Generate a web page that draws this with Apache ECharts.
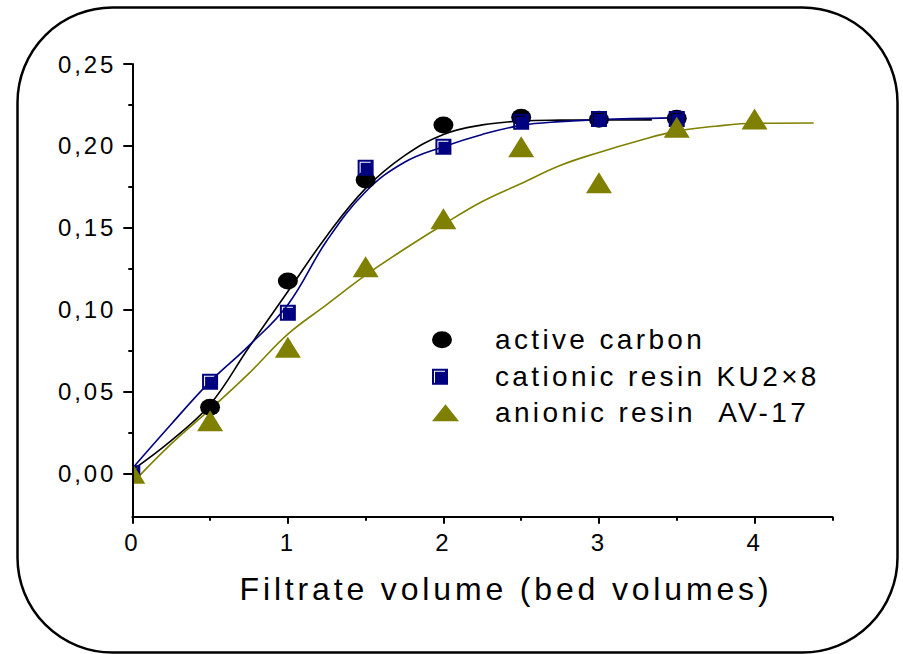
<!DOCTYPE html>
<html>
<head>
<meta charset="utf-8">
<script src="https://cdn.jsdelivr.net/npm/echarts@6/dist/echarts.min.js"></script>
<style>
  html, body { margin: 0; padding: 0; background: #fff; }
  #chart { width: 903px; height: 654px; }
  #chart svg text { letter-spacing: 0.12em; }
</style>
</head>
<body>
<div id="chart"></div>
<script>
// ---- data ----
const carbonX = [0.5, 1, 1.5, 2, 2.5, 3, 3.5];
const carbonY = [0.0403, 0.1175, 0.1792, 0.2128, 0.2175, 0.2163, 0.2169];
const ku2x8X  = [0, 0.5, 1, 1.5, 2, 2.5, 3, 3.5];
const ku2x8Y  = [0, 0.0560, 0.0981, 0.1867, 0.1995, 0.2148, 0.2164, 0.2164];
const av17X   = [0, 0.5, 1, 1.5, 2, 2.5, 3, 3.5, 4];
const av17Y   = [0, 0.0321, 0.0770, 0.1262, 0.1555, 0.1995, 0.1775, 0.2114, 0.2164];

// fitted curves
const carbonFitX = [0, 0.25, 0.5, 0.75, 1.0, 1.25, 1.5, 1.75, 2.0, 2.25, 2.5, 2.75, 3.0, 3.34];
const carbonFitY = [0.002, 0.020, 0.042, 0.077, 0.111, 0.145, 0.174, 0.194, 0.207, 0.2128, 0.2152, 0.2157, 0.2158, 0.2159];
const ku2x8FitX = [0, 0.25, 0.5, 0.75, 1.0, 1.25, 1.5, 1.75, 2.0, 2.25, 2.5, 2.75, 3.0, 3.46];
const ku2x8FitY = [0.003, 0.030, 0.056, 0.078, 0.103, 0.142, 0.172, 0.190, 0.1995, 0.207, 0.2125, 0.2148, 0.216, 0.2171];
const av17FitX = [0, 0.25, 0.5, 0.75, 1.0, 1.25, 1.5, 1.75, 2.0, 2.25, 2.5, 2.75, 3.0, 3.25, 3.5, 3.75, 4.0, 4.38];
const av17FitY = [-0.006, 0.018, 0.039, 0.061, 0.085, 0.103, 0.121, 0.137, 0.152, 0.166, 0.177, 0.188, 0.196, 0.203, 0.209, 0.212, 0.2138, 0.214];

const xMajorTicks = [0, 1, 2, 3, 4];
const xMinorTicks = [0.5, 1.5, 2.5, 3.5, 4.5];
const yMajorTicks = [0, 0.05, 0.10, 0.15, 0.20, 0.25];
const yMinorTicks = [0.025, 0.075, 0.125, 0.175, 0.225];

const names = ['active carbon', 'cationic resin KU2\u00d78', 'anionic resin \u00a0AV-17'];
const xTitle = 'Filtrate volume (bed volumes)';

// ---- styling ----
const FONT = '"Liberation Sans", Arial, sans-serif';
const ELLIPSE = 'path://M10,0 A10,8.5 0 1 1 10,17 A10,8.5 0 1 1 10,0 Z';
const SQUARE = 'path://M0,0 H16 V16 H0 Z M2,2 V14 H3 V3 H13 V2 Z';
const colors = ['#000000', '#000080', '#808000'];

const pairs = (xs, ys) => xs.map((x, i) => [x, ys[i]]);

const chart = echarts.init(document.getElementById('chart'), null, { renderer: 'svg' });

function legendAt(name, icon, w, h, top, padTop) {
  return {
    data: [{ name: name, icon: icon }],
    left: 432, top: top, padding: 0,
    itemWidth: w, itemHeight: h,
    symbolKeepAspect: false,
    selectedMode: false,
    textStyle: { fontFamily: FONT, fontSize: 28, color: '#000', lineHeight: 30, padding: [padTop, 0, 0, 38 - (w - 20)] }
  };
}

const option = {
  animation: false,
  backgroundColor: '#fff',
  textStyle: { fontFamily: FONT },
  graphic: [{
    type: 'rect',
    shape: { x: 17.5, y: 7.5, width: 880, height: 645, r: 95 },
    style: { fill: 'none', stroke: '#000', lineWidth: 2.5 },
    silent: true, z: -1
  }, {
    // plot-area clipping of the markers sitting on the y axis
    type: 'rect',
    shape: { x: 114, y: 455, width: 18.3, height: 40 },
    style: { fill: '#fff' },
    silent: true, z: 6
  }],
  title: {
    text: xTitle, left: 506, top: 573, textAlign: 'center', padding: 0,
    textStyle: { fontFamily: FONT, fontSize: 32, fontWeight: 'normal', color: '#000' }
  },
  legend: [
    legendAt(names[0], ELLIPSE, 20, 17, 320.4, 8.6),
    legendAt(names[1], SQUARE, 16, 16, 361.2, 1),
    legendAt(names[2], 'triangle', 27, 17, 395.3, 5)
  ],
  grid: { left: 132.3, right: 70.7, top: 64, bottom: 137.3, containLabel: false, outerBoundsMode: 'none' },
  xAxis: [{
    type: 'value', min: 0, max: 4.5, position: 'bottom', z: 10,
    axisLine: { show: true, onZero: false, lineStyle: { color: '#000', width: 2 } },
    axisTick: { show: true, customValues: xMajorTicks, length: 7, lineStyle: { color: '#000', width: 2 } },
    axisLabel: { customValues: xMajorTicks, margin: 14, fontSize: 24, color: '#000', fontFamily: FONT },
    splitLine: { show: false }
  }, {
    type: 'value', min: 0, max: 4.5, position: 'bottom', z: 10,
    axisLine: { show: false, onZero: false },
    axisTick: { show: true, customValues: xMinorTicks, length: 4, lineStyle: { color: '#000', width: 2 } },
    axisLabel: { show: false },
    splitLine: { show: false }
  }],
  yAxis: [{
    type: 'value', min: -0.0265, max: 0.25, position: 'left', z: 10,
    axisLine: { show: true, onZero: false, lineStyle: { color: '#000', width: 2 } },
    axisTick: { show: true, customValues: yMajorTicks, length: 9, lineStyle: { color: '#000', width: 2 } },
    axisLabel: {
      customValues: yMajorTicks, margin: 16, fontSize: 24, color: '#000', fontFamily: FONT,
      formatter: v => v.toFixed(2).replace('.', ',')
    },
    splitLine: { show: false }
  }, {
    type: 'value', min: -0.0265, max: 0.25, position: 'left', z: 10,
    axisLine: { show: false, onZero: false },
    axisTick: { show: true, customValues: yMinorTicks, length: 4, lineStyle: { color: '#000', width: 2 } },
    axisLabel: { show: false },
    splitLine: { show: false }
  }],
  series: [
    { type: 'line', data: pairs(carbonFitX, carbonFitY), showSymbol: false, smooth: 0.4, lineStyle: { color: colors[0], width: 1.6 }, silent: true, z: 2 },
    { type: 'line', data: pairs(ku2x8FitX, ku2x8FitY), showSymbol: false, smooth: 0.4, lineStyle: { color: colors[1], width: 1.6 }, silent: true, z: 2 },
    { type: 'line', data: pairs(av17FitX, av17FitY), showSymbol: false, smooth: 0.4, lineStyle: { color: colors[2], width: 1.6 }, silent: true, z: 2 },
    { name: names[0], type: 'scatter', data: pairs(carbonX, carbonY), symbol: ELLIPSE, symbolSize: [20, 17], symbolKeepAspect: false, itemStyle: { color: colors[0], opacity: 1 }, z: 3 },
    { name: names[1], type: 'scatter', data: pairs(ku2x8X, ku2x8Y), symbol: SQUARE, symbolSize: [16, 16], itemStyle: { color: colors[1], opacity: 1 }, z: 4 },
    { name: names[2], type: 'scatter', data: pairs(av17X, av17Y), symbol: 'triangle', symbolSize: [26, 21], itemStyle: { color: colors[2], opacity: 1 }, z: 5 }
  ]
};
chart.setOption(option);
</script>
</body>
</html>
